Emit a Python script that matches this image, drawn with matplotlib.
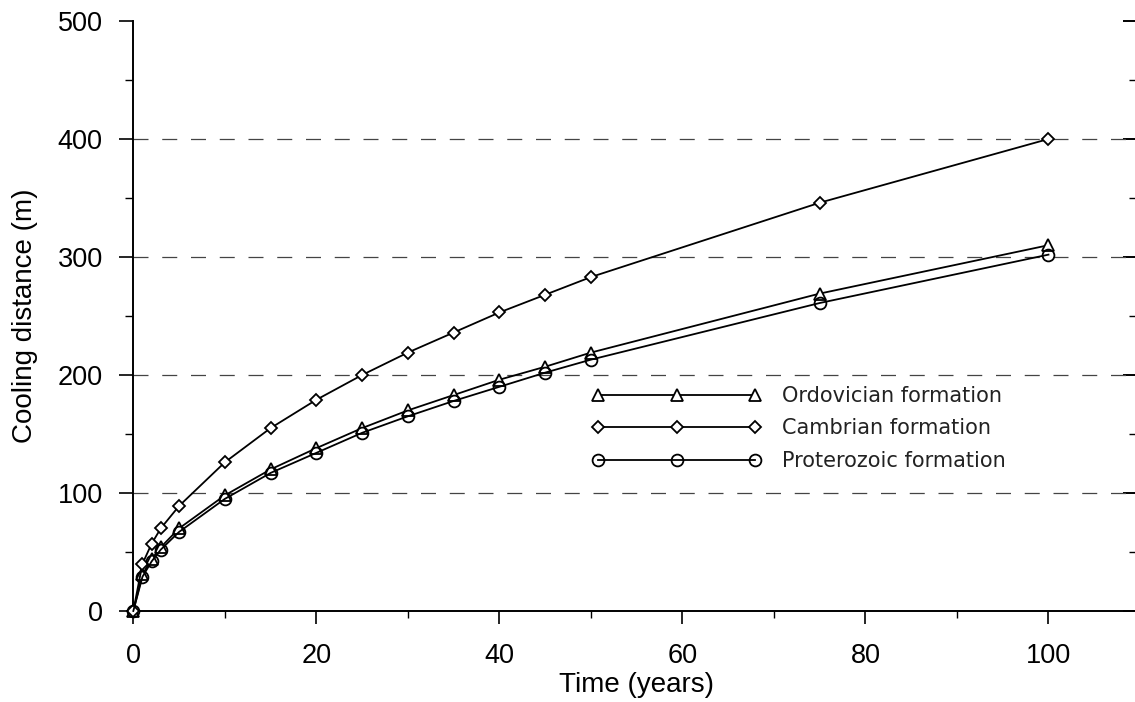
import matplotlib
matplotlib.use("Agg")
import matplotlib.pyplot as plt
from matplotlib.ticker import MultipleLocator

plt.rcParams['font.family'] = ['Liberation Sans', 'DejaVu Sans']

# ---- data ----
time_years = [0, 1, 2, 3, 5, 10, 15, 20, 25, 30, 35, 40, 45, 50, 75, 100]
ordovician = [0, 31, 44, 54, 70, 98, 120, 138, 155, 170, 183, 196, 207, 219, 269, 310]
cambrian = [0, 40, 57, 70, 89, 126, 155, 179, 200, 219, 236, 253, 268, 283, 346, 400]
proterozoic = [0, 29, 42, 52, 67, 95, 117, 134, 151, 165, 178, 190, 202, 213, 261, 302]
series_labels = ["Ordovician formation", "Cambrian formation", "Proterozoic formation"]
grid_levels = [100, 200, 300, 400]

W, H = 1135, 702
fig = plt.figure(figsize=(W / 100, H / 100), dpi=100)
left_px, right_px, bottom_px, top_px = 133.3, 1140.0, 611.0, 21.0
rect = [left_px / W, (H - bottom_px) / H,
        (right_px - left_px) / W, (bottom_px - top_px) / H]
ax = fig.add_axes(rect)

for y in grid_levels:
    ax.axhline(y, color='#444444', lw=0.9, dashes=(12, 11), zorder=1)

lw = 1.3
ax.plot(time_years, ordovician, color='black', lw=lw, marker='^', ms=9,
        mfc='white', mec='black', mew=1.3, label=series_labels[0], zorder=3, clip_on=False)
ax.plot(time_years, cambrian, color='black', lw=lw, marker='D', ms=6.5,
        mfc='white', mec='black', mew=1.3, label=series_labels[1], zorder=3, clip_on=False)
ax.plot(time_years, proterozoic, color='black', lw=lw, marker='o', ms=8.5,
        mfc='none', mec='black', mew=1.3, label=series_labels[2], zorder=4, clip_on=False)

ax.set_xlim(0, 110)
ax.set_ylim(0, 500)

ax.spines['top'].set_visible(False)
ax.spines['right'].set_visible(False)
for s in ('left', 'bottom'):
    ax.spines[s].set_linewidth(1.4)

ax.xaxis.set_major_locator(MultipleLocator(20))
ax.xaxis.set_minor_locator(MultipleLocator(10))
ax.yaxis.set_major_locator(MultipleLocator(100))
ax.yaxis.set_minor_locator(MultipleLocator(50))

ax.tick_params(axis='both', which='major', labelsize=19.5, width=1.2, color='black')
ax.tick_params(axis='y', which='major', direction='out', length=10, pad=12)
ax.tick_params(axis='y', which='minor', direction='out', length=6, width=1.0)
ax.tick_params(axis='x', which='major', direction='out', length=9, pad=14)
ax.tick_params(axis='x', which='minor', direction='out', length=5, width=1.0)

# right-hand inward ticks (right spine lies just outside the picture)
axr = ax.twinx()
axr.set_ylim(ax.get_ylim())
for s in axr.spines.values():
    s.set_visible(False)
axr.yaxis.set_major_locator(MultipleLocator(100))
axr.yaxis.set_minor_locator(MultipleLocator(50))
axr.tick_params(axis='y', which='major', direction='in', length=12, width=1.4,
                labelright=False)
axr.tick_params(axis='y', which='minor', direction='in', length=8, width=1.0)
axr.set_zorder(ax.get_zorder() - 1)
ax.patch.set_visible(False)

ax.set_xlabel("Time (years)", fontsize=20, labelpad=2)
ax.set_ylabel("Cooling distance (m)", fontsize=20, labelpad=14)

fs = 15
fs_px = fs * 100 / 72
leg = ax.legend(loc='upper left', bbox_to_anchor=((592 - left_px) / (right_px - left_px),
                                                 (bottom_px - 386) / (bottom_px - top_px)),
                frameon=False, numpoints=3, handlelength=169 / fs_px,
                handletextpad=1.0, labelspacing=0.6, borderpad=0, borderaxespad=0,
                markerscale=1.0, prop={'family': ['DejaVu Sans'], 'size': fs})
for txt in leg.get_texts():
    txt.set_color('#222222')

fig.savefig("out.png", dpi=100)
